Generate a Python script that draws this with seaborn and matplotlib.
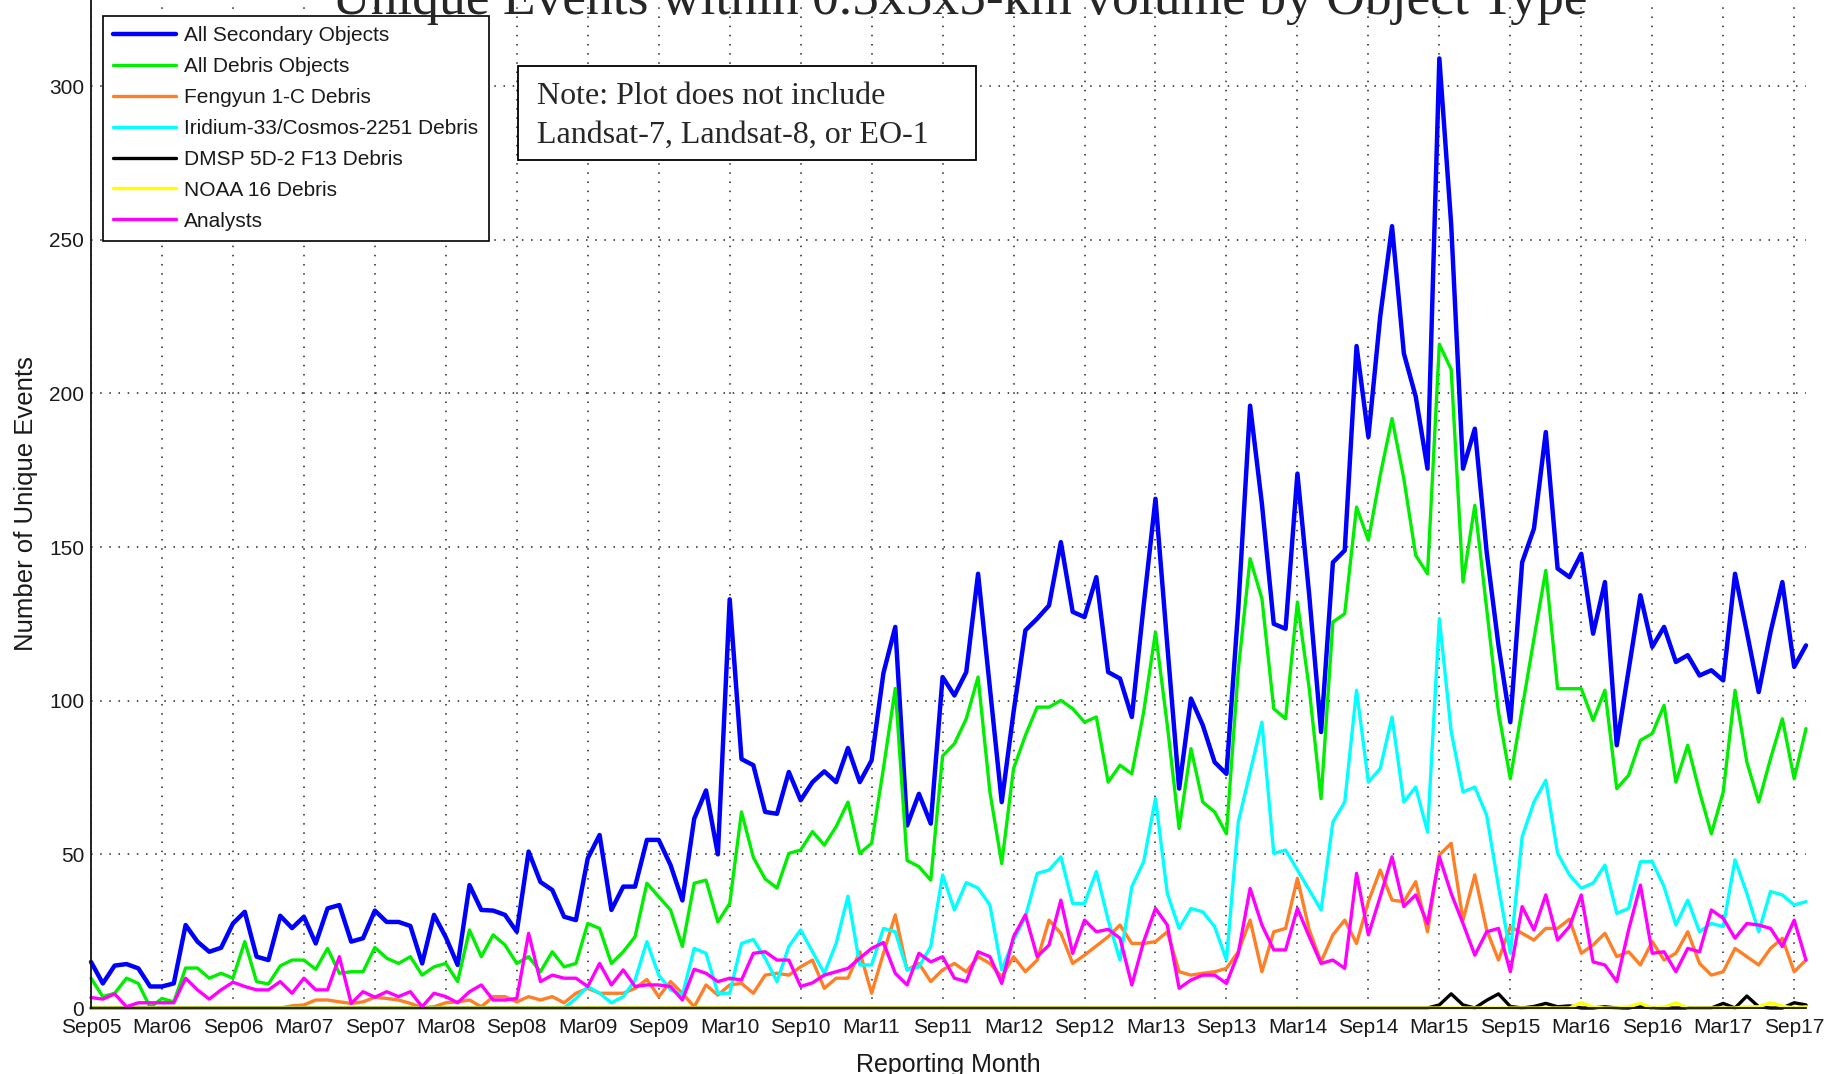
import numpy as np
import pandas as pd
import matplotlib
matplotlib.use("Agg")
import matplotlib.pyplot as plt
import seaborn as sns
from matplotlib.patches import Rectangle

# ---------------- data (monthly, Sep05 .. Oct17) ----------------
months = list(range(146))

all_secondary = [15, 8, 13.8, 14.3, 12.9, 7, 7, 8, 27, 21.6, 18.3, 19.6, 27.5, 31.3, 16.7, 15.6,
                 30, 26, 29.7, 21, 32.4, 33.5, 21.6, 22.7, 31.7, 28, 28, 26.7, 14.5, 30.3, 23, 14,
                 40, 31.9, 31.7, 30.3, 24.8, 50.9, 41, 38.4, 29.7, 28.6, 48.7, 56.3, 31.9, 39.5, 39.5, 54.7,
                 54.7, 46.5, 35, 61.6, 70.8, 50, 133, 81, 79, 63.8, 63.2, 76.8, 67.6, 73.5, 77, 73.5,
                 84.6, 73.5, 80.6, 109, 124, 59.4, 69.7, 60, 107.7, 101.7, 109.3, 141.3, 104, 67, 96.3, 122.9,
                 126.7, 131, 151.6, 128.9, 127.2, 140.2, 109.3, 107.2, 94.7, 131, 165.7, 118, 71.4, 100.7, 92, 80,
                 76.2, 130, 196, 164, 125, 123.4, 173.9, 134.3, 89.8, 145, 148.9, 215.4, 185.8, 225, 254.4, 213,
                 199, 175.5, 309, 255, 175.5, 188.5, 148.4, 118, 93, 145, 156, 187.4, 143, 140.2, 147.8, 121.8,
                 138.6, 85.5, 110, 134.3, 117.5, 124, 112.6, 114.8, 108.2, 109.9, 106.6, 141.3, 122.3, 102.8, 122.3, 138.6,
                 111, 118]

all_debris = [9.7, 3.7, 4.8, 9.7, 8, 0.2, 3.1, 2, 13, 13, 9.7, 11.3, 9.7, 21.6, 8.6, 7.8,
              13.7, 15.6, 15.6, 12.6, 19.4, 11.3, 11.8, 11.8, 19.7, 16.2, 14.5, 16.7, 10.7, 13.4, 14.5, 8.6,
              25.4, 16.7, 23.8, 20.5, 14.5, 16.7, 11.8, 18.3, 13.4, 14.5, 27.5, 25.9, 14.5, 18.3, 23.2, 40.6,
              36.2, 31.9, 20, 40.6, 41.6, 28, 34, 63.8, 49, 42, 39, 50.3, 51.4, 57.4, 53, 59,
              67, 50.3, 53.6, 78, 104, 48, 46, 41.6, 82, 86, 94.1, 107.7, 70.3, 47, 77.9, 88.7,
              97.9, 97.9, 100.1, 97.4, 93, 94.7, 73.5, 79, 76.2, 96.3, 122.3, 92, 58.4, 84.4, 67, 63.8,
              56.7, 110, 146.2, 133.2, 97.4, 94.1, 132.1, 103.9, 68.1, 125.6, 128.3, 163, 152.2, 173.3, 191.8, 172.2,
              147.3, 141.3, 216, 207.8, 138.6, 163.6, 130, 96.3, 74.6, 97.4, 120.2, 142.4, 103.9, 103.9, 103.9, 93.6,
              103.4, 71.4, 75.7, 87.1, 89.3, 98.5, 73.5, 85.5, 70.3, 56.7, 70.3, 103.4, 80, 67, 81.1, 94.1,
              74.6, 90.9]

fengyun = [0, 0, 0, 0, 0, 0, 0, 0, 0, 0, 0, 0, 0, 0, 0, 0,
           0, 0.7, 1, 2.6, 2.6, 2, 1.5, 2, 3.5, 3.1, 2.6, 1.5, 0.1, 0.4, 1.7, 2,
           2.6, 0.4, 3.7, 3.7, 2, 3.7, 2.6, 3.7, 1.7, 4.8, 6.4, 4.8, 4.8, 4.8, 6.4, 9.3,
           3.7, 8.6, 4.8, 0.4, 7.5, 4.2, 7.5, 8, 4.8, 10.7, 11.3, 10.7, 13.4, 15.6, 6.4, 9.7,
           9.7, 18.3, 4.8, 17.8, 30.3, 12.4, 14.5, 8.6, 12.4, 14.5, 11.8, 16.7, 14.5, 10.2, 16.7, 11.8,
           15.6, 28.6, 24.3, 14.5, 17.2, 20.2, 23.2, 27, 21, 21, 21.6, 24.8, 11.8, 10.7, 11.3, 11.8,
           12.9, 18.3, 28.6, 11.8, 24.8, 25.9, 42.2, 25.4, 15, 23.8, 28.6, 21, 34.6, 44.9, 35.1, 34.6,
           41.1, 24.8, 49.8, 53.6, 28.6, 43.3, 25.4, 15.6, 26.5, 24.3, 22.1, 25.9, 25.9, 28.9, 17.8, 20.5,
           24.3, 16.7, 18.3, 14, 21.6, 15.6, 17.8, 24.8, 14.5, 10.7, 11.8, 19.4, 16.7, 14, 19.4, 22.7,
           11.8, 15.6]

iridium = [0] * 40 + [0, 3.1, 7, 4.8, 1.7, 3.7, 9.1, 21.6,
           10.7, 5.9, 4.2, 19.4, 17.8, 4.8, 4.8, 21, 22.3, 16.2, 8.6, 20, 25.4, 18.3, 11.3, 21,
           36.4, 14, 14, 25.9, 24.8, 12.4, 13.4, 20, 43.3, 31.9, 40.8, 39, 33.5, 12.4, 22.1, 29.7,
           43.8, 44.9, 49.2, 34, 34, 44.4, 28.6, 15.6, 39.5, 47.6, 68.2, 37.3, 25.9, 32.4, 31.3, 26.5,
           15.6, 60.5, 76.8, 93, 50.3, 51.4, 44.9, 38.4, 31.9, 60.5, 67, 103.4, 73.5, 77.9, 94.7, 67,
           71.9, 57.3, 126.7, 90, 70.3, 71.9, 62.7, 39.5, 17.8, 55.7, 67, 74.1, 50.3, 43.3, 39, 40.6,
           46.5, 30.8, 32.4, 47.6, 47.6, 39.5, 27, 35.1, 24.8, 27.5, 26.5, 48.2, 37.3, 24.8, 37.9, 36.8,
           33.5, 34.6]

dmsp = [0] * 114 + [1, 4.6, 1, 0, 2.5, 4.6, 0.5, 0, 0.5, 1.5, 0.4, 0.7, 0, 0, 0.4, 0,
        0, 0.7, 0, 0, 0, 0, 0, 0, 1.5, 0, 3.9, 0.4, 0, 0, 1.7, 1]

noaa16 = [0] * 126 + [1.7, 0.3, 0, 0, 0.4, 1.5, 0, 0.3, 1.7, 0, 0, 0, 0, 0, 0.4, 0.4,
          1.7, 0.6, 0, 0.4]

analysts = [3.4, 2.9, 4.6, 0.4, 1.7, 1.7, 1.7, 1.7, 9.7, 5.9, 2.9, 5.9, 8.4, 7, 5.9, 5.9,
            8.6, 4.8, 9.7, 5.9, 5.9, 16.7, 1.5, 5.3, 3.5, 5.3, 3.7, 5.3, 0.4, 4.8, 3.7, 1.7,
            5.3, 7.5, 2.6, 2.6, 3.1, 24.3, 8.6, 10.7, 9.7, 9.7, 7, 14.5, 7.5, 12.4, 7, 7.5,
            7.5, 7, 2.6, 12.6, 11.3, 8.6, 9.7, 9.1, 17.8, 18.3, 15.6, 15.6, 7, 8.2, 10.7, 11.8,
            12.9, 16.2, 19.4, 21.3, 11.3, 7.5, 17.8, 15, 16.7, 9.7, 8.6, 18.3, 16.7, 8, 23.2, 30.3,
            16.7, 20.5, 35.1, 17.8, 28.6, 24.8, 25.6, 22.7, 7.5, 21.6, 32.4, 27, 6.4, 9.1, 10.7, 10.7,
            8, 17.8, 38.9, 27, 18.9, 18.9, 32.4, 23.2, 14.5, 15.6, 12.9, 43.8, 23.8, 36.2, 49.2, 33,
            36.8, 27.5, 49.2, 37.3, 27.5, 17.2, 24.8, 25.9, 11.8, 33, 25.4, 36.8, 22.1, 26.5, 36.8, 15,
            14, 8.6, 25.4, 40, 17.8, 18.3, 11.8, 19.4, 18.3, 31.9, 29.2, 22.7, 27.5, 27, 25.9, 20,
            28.6, 15.6]

series_names = ["All Secondary Objects", "All Debris Objects", "Fengyun 1-C Debris",
                "Iridium-33/Cosmos-2251 Debris", "DMSP 5D-2 F13 Debris", "NOAA 16 Debris", "Analysts"]
series_values = [all_secondary, all_debris, fengyun, iridium, dmsp, noaa16, analysts]
series_colors = ["#0000FF", "#00EE00", "#FF7F27", "#00FFFF", "#000000", "#FFFF00", "#FF00FF"]
series_widths = [3.2, 2.4, 2.4, 2.4, 2.4, 2.4, 2.4]

tick_positions = list(range(0, 145, 6))
tick_labels = ["Sep05", "Mar06", "Sep06", "Mar07", "Sep07", "Mar08", "Sep08", "Mar09", "Sep09",
               "Mar10", "Sep10", "Mar11", "Sep11", "Mar12", "Sep12", "Mar13", "Sep13", "Mar14",
               "Sep14", "Mar15", "Sep15", "Mar16", "Sep16", "Mar17", "Sep17"]
y_ticks = [0, 50, 100, 150, 200, 250, 300]

# ---------------- plotting ----------------
sns.set_theme(style="white")
plt.rcParams['font.family'] = ['Liberation Sans', 'DejaVu Sans']

W, H = 1837, 1074
fig = plt.figure(figsize=(W / 100, H / 100), dpi=100)
ax = fig.add_axes([91 / W, 1 - 1008 / H, (1806 - 91) / W, 1008 / H])

for name, vals, col, lw in zip(series_names, series_values, series_colors, series_widths):
    df = pd.DataFrame({"month": months, "value": vals})
    sns.lineplot(data=df, x="month", y="value", color=col, linewidth=lw, ax=ax,
                 label=name, legend=False, clip_on=False)

ax.set_xlim(0, 145)
ax.set_ylim(0, 328)
ax.set_xticks(tick_positions)
ax.set_xticklabels(tick_labels)
ax.set_yticks(y_ticks)
ax.tick_params(axis='both', direction='in', length=12, width=1.2, colors='#111111',
               labelsize=15, labelcolor='#1a1a1a')
ax.tick_params(axis='x', pad=7)
ax.tick_params(axis='y', pad=5)
ax.grid(True, color='#222222', linestyle=(0, (1, 5)), linewidth=1.1)
for s in ['top', 'right']:
    ax.spines[s].set_visible(False)
for s in ['left', 'bottom']:
    ax.spines[s].set_color('#111111')
    ax.spines[s].set_linewidth(1.3)
ax.set_xlabel("Reporting Month", fontsize=18, color='#1a1a1a', labelpad=12)
ax.set_ylabel("Number of Unique Events", fontsize=18.5, color='#1a1a1a', labelpad=8)

handles = ax.get_lines()[:len(series_names)]
leg = ax.legend(handles, series_names, loc='upper left',
                bbox_to_anchor=(103 / W, 1 - 16 / H), bbox_transform=fig.transFigure,
                borderaxespad=0, fontsize=15, frameon=True, fancybox=False,
                framealpha=1, edgecolor='black', handlelength=3.0, handletextpad=0.4,
                labelspacing=0.57, borderpad=0.5)
leg.get_frame().set_linewidth(1.2)
for t in leg.get_texts():
    t.set_color('#1a1a1a')

# note box
fig.patches.append(Rectangle((518 / W, 1 - 160 / H), (976 - 518) / W, (160 - 66) / H,
                             transform=fig.transFigure, facecolor='white',
                             edgecolor='black', linewidth=1.3, zorder=5))
fig.text(537 / W, 1 - 96 / H, "Note: Plot does not include", fontsize=23,
         family=['Liberation Serif', 'DejaVu Serif'], va='center', ha='left', zorder=6)
fig.text(537 / W, 1 - 135 / H, "Landsat-7, Landsat-8, or EO-1", fontsize=23,
         family=['Liberation Serif', 'DejaVu Serif'], va='center', ha='left', zorder=6)

# title (cut off at the top as in the reference)
fig.text(960 / W, 1 - 14 / H, "Unique Events within 0.5x5x5-km volume by Object Type",
         fontsize=38.5, family=['Liberation Serif', 'DejaVu Serif'], ha='center', va='baseline')

fig.savefig("out.png", dpi=100)
